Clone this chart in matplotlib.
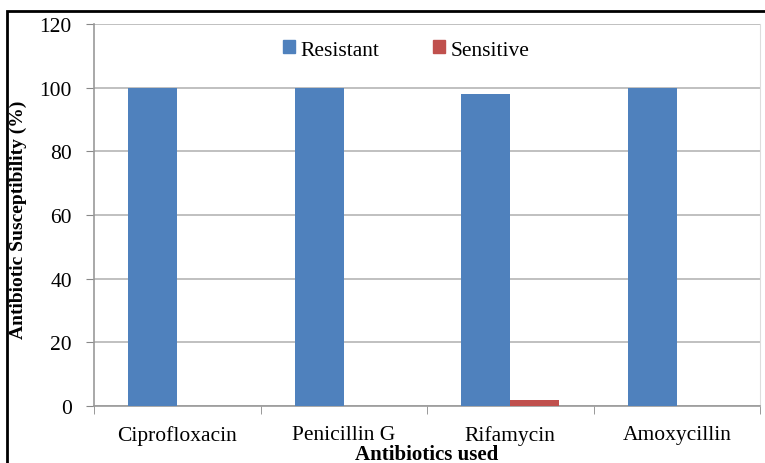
import matplotlib
matplotlib.use("Agg")
import matplotlib.pyplot as plt
from matplotlib.patches import Rectangle, Patch
import numpy as np

categories = ["Ciprofloxacin", "Penicillin G", "Rifamycin", "Amoxycillin"]
resistant = [100, 100, 98, 100]
sensitive = [0, 0, 2, 0]
yticks = [0, 20, 40, 60, 80, 100, 120]

plt.rcParams['font.family'] = ['Liberation Serif', 'DejaVu Serif']

W, H = 765, 464
fig = plt.figure(figsize=(W/100, H/100), dpi=100)
ax = fig.add_axes([94/W, 1-407/H, (760-94)/W, (407-25)/H])

x = np.arange(len(categories))
bw = 0.294
ax.bar(x - bw/2, resistant, bw, color="#4F81BD", label="Resistant", zorder=3)
ax.bar(x + bw/2, sensitive, bw, color="#C0504D", label="Sensitive", zorder=3)

ax.set_xlim(-0.5, len(categories) - 0.5)
ax.set_ylim(0, 120)
ax.set_yticks(yticks)
ax.set_yticklabels([str(v) for v in yticks], fontsize=15.5)
ax.set_xticks(x)
ax.set_xticklabels(categories, fontsize=15.5)
ax.tick_params(axis='x', length=0, pad=14)
ax.set_xticks(np.arange(-0.5, len(categories)), minor=True)
ax.tick_params(axis='x', which='minor', length=6, color="#888888", direction='out')
ax.tick_params(axis='y', length=6, color="#888888", pad=10)

ax.grid(axis='y', color="#b5b5b5", linewidth=1.2, zorder=0)
ax.spines['top'].set_visible(False)
ax.spines['right'].set_color("#dddddd")
ax.spines['left'].set_color("#999999")
ax.spines['bottom'].set_color("#999999")
ax.spines['left'].set_linewidth(1.2)
ax.spines['bottom'].set_linewidth(1.2)

ax.set_xlabel("Antibiotics used", fontsize=15, fontweight='bold', labelpad=-1)
fig.text(18/W, 1-220/H, "Antibiotic Susceptibility (%)", rotation=90, fontsize=14,
         fontweight='bold', ha='center', va='center')

handles = [Patch(color="#4F81BD", label="Resistant"), Patch(color="#C0504D", label="Sensitive")]
fig.legend(handles=handles, loc='center', bbox_to_anchor=(406/W, 1-51/H), ncol=2,
           frameon=False, fontsize=15.5, handlelength=0.55, handleheight=0.55,
           handletextpad=0.25, columnspacing=2.5)

fig.patches.append(Rectangle((7/W, -0.05), 1.2, 1.05 - 12/H, transform=fig.transFigure,
                             fill=False, edgecolor='black', linewidth=2, figure=fig))

fig.savefig("out.png", dpi=100)
